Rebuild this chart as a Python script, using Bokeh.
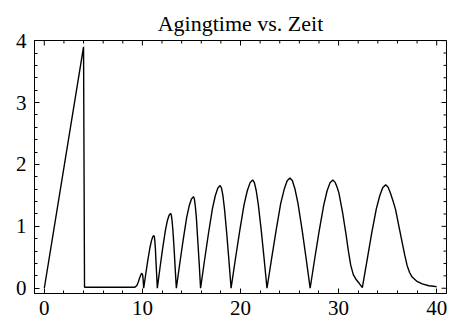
import math
from bokeh.plotting import figure
from bokeh.models import Range1d, LinearAxis, SingleIntervalTicker
from bokeh.embed import file_html
from bokeh.resources import INLINE

title_text = "Agingtime vs. Zeit"

# curve points
zeit = [
    0.0, 4.0, 4.1, 9.2, 9.3, 9.45, 9.6, 9.75, 9.88, 9.96, 10.03, 10.08, 10.13,
    10.34, 10.55, 10.76, 10.92, 11.05, 11.18, 11.22, 11.265, 11.32, 11.38, 11.45, 11.52,
    11.79, 12.06, 12.34, 12.54, 12.72, 12.88, 12.95, 13.025, 13.11, 13.23, 13.34, 13.46,
    13.81, 14.16, 14.51, 14.77, 15.0, 15.21, 15.30, 15.39, 15.50, 15.64, 15.79, 15.93,
    16.33, 16.73, 17.13, 17.43, 17.69, 17.93, 18.06, 18.21, 18.37, 18.60, 18.82, 19.04,
    19.48, 19.92, 20.36, 20.69, 20.98, 21.24, 21.415, 21.605, 21.82, 22.12, 22.41, 22.70,
    23.17, 23.64, 24.10, 24.46, 24.76, 25.04, 25.29, 25.555, 25.86, 26.28, 26.69, 27.10,
    27.56, 28.02, 28.49, 28.83, 29.13, 29.41, 29.65, 29.85, 30.03, 30.4, 30.73, 31.0,
    31.24, 31.5, 31.75, 32.1, 32.42,
    32.90, 33.37, 33.85, 34.21, 34.51, 34.80, 35.05, 35.3, 35.55, 35.81, 36.15, 36.48,
    36.75, 36.99, 37.25, 37.5, 38.0, 38.52, 39.2, 39.88, 40.0,
]
agingtime = [
    0.0, 3.9, 0.015, 0.015, 0.025, 0.05, 0.11, 0.18, 0.23, 0.24, 0.21, 0.13, 0.0,
    0.23, 0.45, 0.65, 0.765, 0.83, 0.85, 0.83, 0.765, 0.65, 0.45, 0.23, 0.0,
    0.327, 0.641, 0.932, 1.089, 1.18, 1.21, 1.18, 1.089, 0.932, 0.641, 0.327, 0.0,
    0.40, 0.784, 1.14, 1.332, 1.443, 1.48, 1.443, 1.332, 1.14, 0.784, 0.40, 0.0,
    0.448, 0.88, 1.278, 1.494, 1.62, 1.66, 1.62, 1.494, 1.278, 0.88, 0.448, 0.0,
    0.4725, 0.9275, 1.3475, 1.575, 1.706, 1.75, 1.706, 1.575, 1.3475, 0.9275, 0.4725, 0.0,
    0.48, 0.943, 1.37, 1.602, 1.736, 1.78, 1.736, 1.602, 1.37, 0.943, 0.48, 0.0,
    0.4725, 0.9275, 1.3475, 1.575, 1.706, 1.75, 1.71, 1.63, 1.54, 1.23, 0.90, 0.6,
    0.37, 0.22, 0.15, 0.08, 0.01,
    0.45, 0.885, 1.286, 1.503, 1.628, 1.67, 1.63, 1.53, 1.41, 1.27, 1.0, 0.74,
    0.53, 0.364, 0.25, 0.18, 0.11, 0.07, 0.04, 0.027, 0.025,
]

# frame tick positions (top and right frame edges, unlabeled)
x_major_ticks = [0, 10, 20, 30, 40]
x_minor_ticks = [v for v in range(0, 41, 2) if v % 10 != 0]
y_major_ticks = [0, 1, 2, 3, 4]
y_minor_ticks = [round(v * 0.2, 1) for v in range(0, 20) if v % 5 != 0]

FONT = "Liberation Serif"
X0, X1 = -1.0, 41.0
Y0, Y1 = -0.085, 4.002

p = figure(width=452, height=329, output_backend="svg", toolbar_location=None,
           x_range=Range1d(X0, X1), y_range=Range1d(Y0, Y1),
           min_border_left=34, min_border_right=6, min_border_top=40, min_border_bottom=36,
           x_axis_type=None, y_axis_type=None)
p.title.text = title_text
p.title.align = "center"
p.title.text_font = FONT
p.title.text_font_size = "22px"
p.title.text_font_style = "normal"
p.title.text_color = "black"

p.xgrid.visible = False
p.ygrid.visible = False
p.outline_line_color = "black"
p.outline_line_width = 1
p.background_fill_color = "white"
p.border_fill_color = "white"

def style(ax, standoff):
    ax.major_tick_in = 5
    ax.major_tick_out = 0
    ax.minor_tick_in = 3
    ax.minor_tick_out = 0
    ax.axis_line_color = "black"
    ax.major_tick_line_color = "black"
    ax.minor_tick_line_color = "black"
    ax.major_label_text_font = FONT
    ax.major_label_text_color = "black"
    ax.major_label_standoff = standoff
    ax.major_label_text_font_size = "21px"

xax = LinearAxis(ticker=SingleIntervalTicker(interval=10, num_minor_ticks=5))
style(xax, 7)
p.add_layout(xax, "below")
yax = LinearAxis(ticker=SingleIntervalTicker(interval=1, num_minor_ticks=5))
style(yax, 8)
p.add_layout(yax, "left")

# inward ticks on top and right frame edges
p.ray(x=x_major_ticks, y=[Y1] * len(x_major_ticks), length=5, length_units="screen",
      angle=-math.pi / 2, line_color="black", line_width=1)
p.ray(x=x_minor_ticks, y=[Y1] * len(x_minor_ticks), length=3, length_units="screen",
      angle=-math.pi / 2, line_color="black", line_width=1)
p.ray(x=[X1] * len(y_major_ticks), y=y_major_ticks, length=5, length_units="screen",
      angle=math.pi, line_color="black", line_width=1)
p.ray(x=[X1] * len(y_minor_ticks), y=y_minor_ticks, length=3, length_units="screen",
      angle=math.pi, line_color="black", line_width=1)

p.line(zeit, agingtime, line_color="black", line_width=1.4)

open("out.html", "w").write(file_html(p, INLINE))
